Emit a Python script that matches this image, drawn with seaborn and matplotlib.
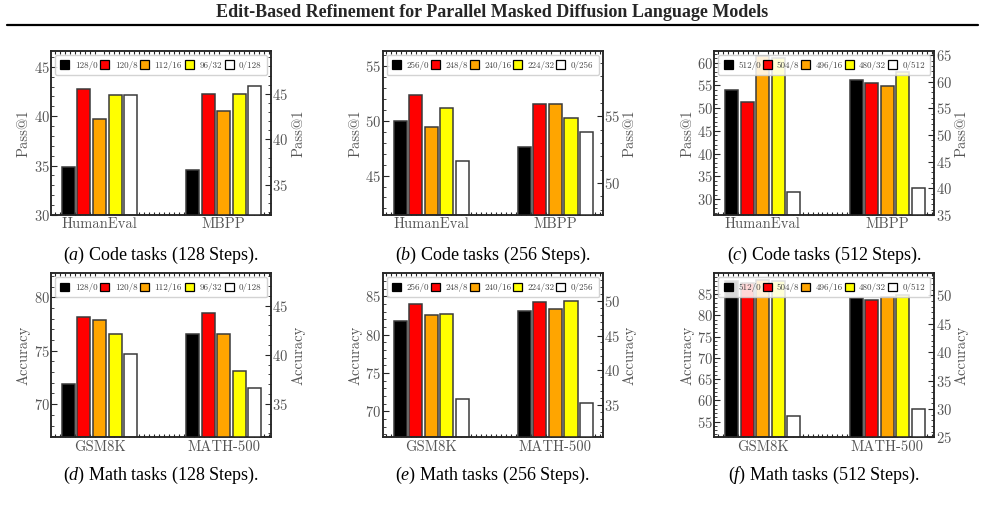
import pandas as pd
import matplotlib
matplotlib.use("Agg")
import matplotlib.pyplot as plt
from matplotlib.patches import Patch
from matplotlib.lines import Line2D
from matplotlib.ticker import MultipleLocator, AutoMinorLocator
import seaborn as sns

# Data
code_tasks = ["HumanEval", "MBPP"]
math_tasks = ["GSM8K", "MATH-500"]

configs_128 = ["128/0", "120/8", "112/16", "96/32", "0/128"]
configs_256 = ["256/0", "248/8", "240/16", "224/32", "0/256"]
configs_512 = ["512/0", "504/8", "496/16", "480/32", "0/512"]

bar_colors = ["#000000", "#ff0000", "#ffa500", "#ffff00", "#ffffff"]

# left axis -> first task, right axis -> second task
humaneval_128 = [34.9, 42.7, 39.7, 42.1, 42.1]
mbpp_128 = [36.6, 45.0, 43.1, 45.0, 45.8]
humaneval_256 = [50.0, 52.4, 49.4, 51.2, 46.3]
mbpp_256 = [52.7, 55.9, 55.9, 54.9, 53.8]
humaneval_512 = [54.0, 51.4, 61.5, 61.0, 31.5]
mbpp_512 = [60.4, 59.7, 59.2, 61.9, 40.0]

gsm8k_128 = [71.9, 78.2, 77.9, 76.6, 74.7]
math500_128 = [42.1, 44.3, 42.1, 38.3, 36.6]
gsm8k_256 = [81.8, 84.0, 82.6, 82.7, 71.6]
math500_256 = [48.6, 49.8, 48.8, 50.0, 35.3]
gsm8k_512 = [88.0, 87.5, 88.2, 88.0, 56.3]
math500_512 = [49.6, 49.2, 49.8, 50.0, 29.9]

captions = ["Code tasks (128 Steps).", "Code tasks (256 Steps).", "Code tasks (512 Steps).",
            "Math tasks (128 Steps).", "Math tasks (256 Steps).", "Math tasks (512 Steps)."]
letters = ["a", "b", "c", "d", "e", "f"]

panels = [
    (code_tasks, configs_128, humaneval_128, mbpp_128, "Pass@1", (30, 46.6), (31.7, 49.7)),
    (code_tasks, configs_256, humaneval_256, mbpp_256, "Pass@1", (41.4, 56.4), (47.6, 59.9)),
    (code_tasks, configs_512, humaneval_512, mbpp_512, "Pass@1", (26.5, 62.6), (35, 65.8)),
    (math_tasks, configs_128, gsm8k_128, math500_128, "Accuracy", (66.9, 82.25), (31.6, 48.3)),
    (math_tasks, configs_256, gsm8k_256, math500_256, "Accuracy", (66.6, 88.0), (30.3, 54.0)),
    (math_tasks, configs_512, gsm8k_512, math500_512, "Accuracy", (51.3, 89.9), (25, 53.9)),
]

sns.set_theme(style="ticks")
plt.rcParams["font.family"] = ["cmr10", "DejaVu Serif"]
plt.rcParams["axes.formatter.use_mathtext"] = True
plt.rcParams["mathtext.fontset"] = "custom"
plt.rcParams["mathtext.it"] = "Liberation Serif:italic"
plt.rcParams["mathtext.rm"] = "Liberation Serif"

fig = plt.figure(figsize=(9.85, 5.05), dpi=100)

lefts = [0.0518, 0.3885, 0.7252]
bottoms = [0.5743, 0.1341]
w, h = 0.2234, 0.3248
label_gray = "#555555"

for i, (tasks, configs, left_vals, right_vals, ylab, ylim_l, ylim_r) in enumerate(panels):
    r, c = divmod(i, 3)
    ax = fig.add_axes([lefts[c], bottoms[r], w, h])
    ax2 = ax.twinx()
    palette = dict(zip(configs, bar_colors))

    df_left = pd.DataFrame({"task": tasks[0], "config": configs, "value": left_vals})
    df_right = pd.DataFrame({"task": tasks[1], "config": configs, "value": right_vals})

    for a, d in [(ax, df_left), (ax2, df_right)]:
        sns.barplot(data=d, x="task", y="value", hue="config", order=tasks, hue_order=configs,
                    palette=palette, saturation=1, width=0.625, gap=0.16, errorbar=None,
                    edgecolor="#3a3a3a", linewidth=1.1, legend=False, ax=a)

    ax.set_xlim(-0.39, 1.38)
    ax.set_ylim(*ylim_l)
    ax2.set_ylim(*ylim_r)
    ax.set_xlabel("")
    ax.set_ylabel(ylab, color=label_gray, fontsize=10.5, labelpad=2)
    ax2.set_ylabel(ylab, color=label_gray, fontsize=10.5, labelpad=2)

    for a in (ax, ax2):
        a.yaxis.set_major_locator(MultipleLocator(5))
        a.yaxis.set_minor_locator(AutoMinorLocator(5))
        for s in a.spines.values():
            s.set_linewidth(1.1)
            s.set_visible(True)
        a.set_axisbelow(True)
    ax.xaxis.set_minor_locator(MultipleLocator(0.04))
    ax.tick_params(axis="x", which="both", direction="in", top=True, bottom=True,
                   labelcolor=label_gray, labelsize=10.5, pad=2)
    ax.tick_params(axis="x", which="major", length=0)
    ax.tick_params(axis="x", which="minor", length=2, width=0.8)
    ax.tick_params(axis="y", which="both", direction="in", left=True, right=False,
                   labelcolor=label_gray, labelsize=10.5, pad=1)
    ax2.tick_params(axis="y", which="both", direction="in", right=True, left=False,
                    labelcolor=label_gray, labelsize=10.5, pad=1)
    for a in (ax, ax2):
        a.tick_params(axis="y", which="major", length=4, width=0.8)
        a.tick_params(axis="y", which="minor", length=2, width=0.6)

    # legend at figure level so it sits above the bars of both axes
    handles = [Patch(facecolor=col, edgecolor="black", linewidth=0.9) for col in bar_colors]
    leg = fig.legend(handles, configs, loc="upper left", bbox_to_anchor=(0.018, 0, 0.964, 0.976),
                     bbox_transform=ax.transAxes, mode="expand", ncol=5, fontsize=6.5,
                     handlelength=1.0, handleheight=1.1, handletextpad=0.6, columnspacing=0.3,
                     borderpad=0.6, borderaxespad=0, frameon=True, fancybox=True,
                     framealpha=0.85, edgecolor="#cccccc")
    for t in leg.get_texts():
        t.set_color("#444444")

    cx = lefts[c] + w / 2
    cy = 0.495 if r == 0 else 0.0594
    fig.text(cx, cy, rf"$\it{{({letters[i]})}}$ " + captions[i], ha="center", va="center",
             fontsize=13, family="Liberation Serif", color="black")

fig.text(0.5, 0.975, "Edit-Based Refinement for Parallel Masked Diffusion Language Models",
         ha="center", va="center", fontsize=13, fontweight="bold", family="Liberation Serif")
fig.add_artist(Line2D([7 / 985, 978 / 985], [1 - 24.5 / 505, 1 - 24.5 / 505],
                      color="black", linewidth=1.6, transform=fig.transFigure))

fig.savefig("out.png", dpi=100)
